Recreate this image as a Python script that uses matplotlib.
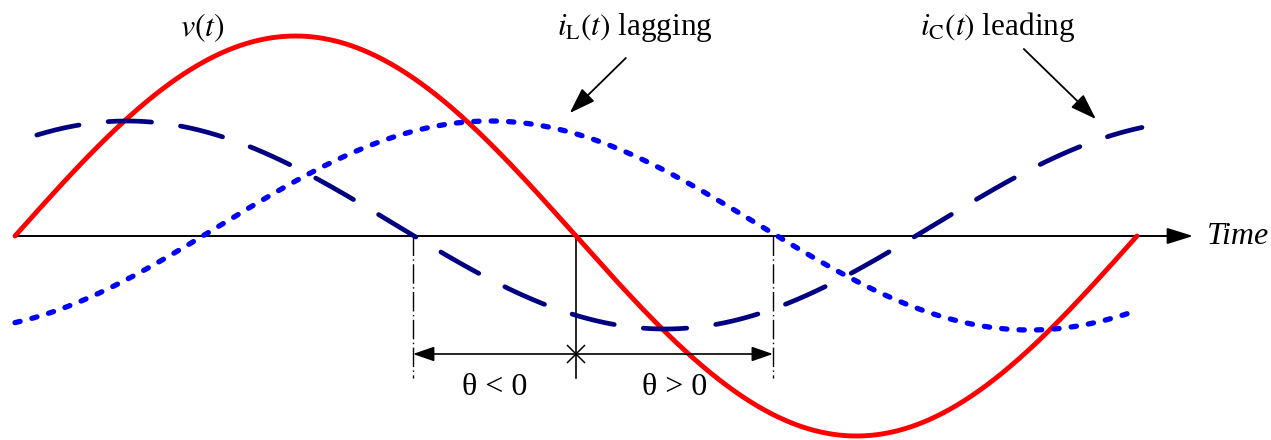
import numpy as np
import matplotlib
matplotlib.use("Agg")
import matplotlib.pyplot as plt

# phase angle axis in degrees, amplitudes relative to v(t)
v_amp, v_period, v_start = 1.0, 360.0, 0.0
il_amp, il_offset, il_peak, il_period = 0.5225, 0.0525, 152.4, 346.5
ic_amp, ic_offset, ic_peak, ic_period = 0.52, 0.055, 35.9, 345.2
il_span = (0.0, 359.4)
ic_span = (7.0, 361.6)

# marker times for the phase-angle annotation (deg)
t_lead, t_ref, t_lag = 127.7, 180.0, 243.2

plt.rcParams['font.family'] = ['Liberation Serif', 'DejaVu Serif']
plt.rcParams['mathtext.fontset'] = 'stix'

fig = plt.figure(figsize=(12.71, 4.40), dpi=100)
ax = fig.add_axes([0, 0, 1, 1])
ax.set_xlim(-4.81, 403.0)
ax.set_ylim(-1.02, 1.18)
ax.axis('off')

t = np.linspace(v_start, v_start + v_period, 600)
v = v_amp * np.sin(2 * np.pi * (t - v_start) / v_period)

t_l = np.linspace(*il_span, 600)
i_l = il_offset + il_amp * np.cos(2 * np.pi * (t_l - il_peak) / il_period)

t_c = np.linspace(*ic_span, 600)
i_c = ic_offset + ic_amp * np.cos(2 * np.pi * (t_c - ic_peak) / ic_period)

# time axis
ax.annotate('', xy=(378.0, 0), xytext=(0, 0),
            arrowprops=dict(arrowstyle='-|>,head_length=1.6,head_width=0.5',
                            mutation_scale=10, lw=1.4, color='black',
                            shrinkA=0, shrinkB=0), zorder=1)
ax.text(382.5, 0, 'Time', style='italic', fontsize=23, va='center', ha='left')

ax.plot(t, v, color='#ff0000', lw=3.5, solid_capstyle='round', zorder=3)
ax.plot(t_l, i_l, color='#0000ff', lw=3.8, dashes=(1.0, 2.3),
        dash_capstyle='round', zorder=3)
ax.plot(t_c, i_c, color='#000080', lw=3.4, dashes=(9.2, 6.2),
        dash_capstyle='round', zorder=3)

# phase-angle markers
y_bot, y_arr, y_lab = -0.71, -0.59, -0.755
for tx in (t_lead, t_lag):
    ax.plot([tx, tx], [0, y_bot], color='black', lw=1,
            dashes=(14, 2.5, 1, 2.5), zorder=2)
ax.plot([t_ref, t_ref], [0, y_bot], color='black', lw=1.2, zorder=2)
for tx in (t_lead, t_lag):
    ax.annotate('', xy=(tx, y_arr), xytext=(t_ref, y_arr),
                arrowprops=dict(arrowstyle='-|>,head_length=1.3,head_width=0.45',
                                mutation_scale=10, lw=1.2, color='black',
                                shrinkA=0, shrinkB=0))
ax.plot(t_ref, y_arr, marker='x', ms=13, mew=1.1, color='black')
ax.text((t_lead + t_ref) / 2, y_lab, r'θ < 0', fontsize=23, ha='center', va='center')
ax.text((t_ref + t_lag) / 2, y_lab, r'θ > 0', fontsize=23, ha='center', va='center')

# labels
ax.text(60.0, 1.04, r'$v(t)$', fontsize=23, ha='center', va='center')
ax.text(199.0, 1.045, r'$i_{\mathrm{L}}(t)$ lagging', fontsize=22.5, ha='center', va='center')
ax.text(315.4, 1.045, r'$i_{\mathrm{C}}(t)$ leading', fontsize=22.5, ha='center', va='center')
ax.annotate('', xy=(178.0, 0.615), xytext=(196.0, 0.89),
            arrowprops=dict(arrowstyle='-|>,head_length=1.6,head_width=0.55',
                            mutation_scale=10, lw=1.3, color='black',
                            shrinkA=0, shrinkB=0))
ax.annotate('', xy=(346.8, 0.585), xytext=(323.7, 0.935),
            arrowprops=dict(arrowstyle='-|>,head_length=1.6,head_width=0.55',
                            mutation_scale=10, lw=1.3, color='black',
                            shrinkA=0, shrinkB=0))

fig.savefig('out.png', dpi=100)
